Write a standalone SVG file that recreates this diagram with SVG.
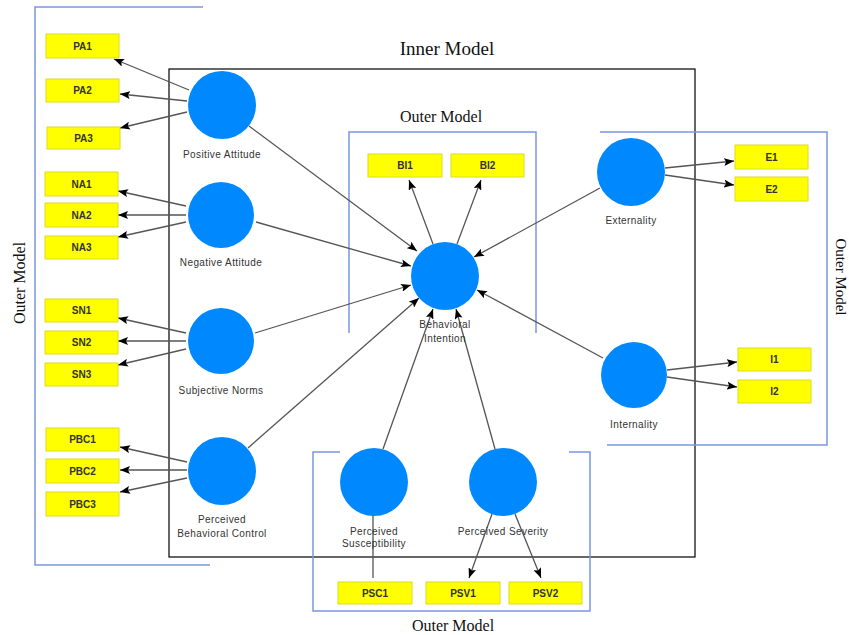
<svg xmlns="http://www.w3.org/2000/svg" width="849" height="635" viewBox="0 0 849 635">
  <style>
    .frame { fill: none; stroke: #000; stroke-width: 1.2; }
    .outer { fill: none; stroke: #7b96e0; stroke-width: 1.5; }
    .title { font-family: "Liberation Serif", "Times New Roman", serif; fill: #111; }
    .edge { fill: none; stroke: #555; stroke-width: 1.3; }
    .lv { fill: #0088ff; }
    .lvlabel { font-family: "Liberation Sans", Arial, sans-serif; font-size: 10px; letter-spacing: 0.4px; fill: #333; text-anchor: middle; }
    .ind { fill: #ffff00; stroke: #dcdc20; stroke-width: 1; }
    .indlabel { font-family: "Liberation Sans", Arial, sans-serif; font-size: 10px; font-weight: bold; fill: #333; text-anchor: middle; }
  </style>
  <defs>
    <marker id="arrow" viewBox="0 0 10 8" refX="10" refY="4" markerWidth="10" markerHeight="8" markerUnits="userSpaceOnUse" orient="auto">
      <path d="M0,0 L10,4 L0,8 L2,4 z" fill="#000"/>
    </marker>
  </defs>

  <rect width="849" height="635" fill="#fff"/>

  <!-- structural model frame -->
  <rect class="frame" x="169" y="69" width="526" height="488"/>
  <text class="title" x="447" y="55" font-size="19" text-anchor="middle">Inner Model</text>

  <!-- measurement model brackets -->
  <g id="outer-frames">
    <path class="outer" d="M203,7 L35,7 L35,565 L210,565"/>
    <path class="outer" d="M349,333 L349,132 L536,132 L536,333"/>
    <path class="outer" d="M600,132 L827,132 L827,445 L607,445"/>
    <path class="outer" d="M340,452 L313,452 L313,611 L590,611 L590,452 L569,452"/>
    <text class="title" x="441" y="122" font-size="16" text-anchor="middle">Outer Model</text>
    <text class="title" x="453" y="631" font-size="16" text-anchor="middle">Outer Model</text>
    <text class="title" font-size="16" text-anchor="middle" transform="translate(25,283) rotate(-90)">Outer Model</text>
    <text class="title" font-size="15" text-anchor="middle" transform="translate(836,277) rotate(90)">Outer Model</text>
  </g>

  <!-- connectors -->
  <g id="connectors" class="edge" marker-end="url(#arrow)">
    <path d="M189,90 L114,59"/>
    <path d="M187,101 L120,94"/>
    <path d="M187,112 L120,128"/>
    <path d="M186,206 L118,191"/>
    <path d="M186,215 L118,215"/>
    <path d="M186,222 L118,237"/>
    <path d="M186,333 L118,318"/>
    <path d="M186,341 L118,341"/>
    <path d="M186,349 L118,365"/>
    <path d="M187,462 L120,447"/>
    <path d="M187,470 L120,470"/>
    <path d="M187,478 L120,492"/>
    <path d="M249,126 L417,251"/>
    <path d="M256,222 L411,266"/>
    <path d="M255,333 L411,285"/>
    <path d="M248,448 L419,298"/>
    <path d="M600,188 L474,257"/>
    <path d="M603,358 L477,290"/>
    <path d="M383,449 L433,309"/>
    <path d="M495,449 L456,309"/>
    <path d="M433,244 L409,180"/>
    <path d="M457,244 L481,180"/>
    <path d="M665,168 L734,161"/>
    <path d="M665,175 L734,185"/>
    <path d="M667,370 L737,362"/>
    <path d="M667,377 L737,387"/>
    <path d="M373,515 L373,578" marker-end="none"/>
    <path d="M492,514 L469,578"/>
    <path d="M515,514 L541,578"/>
  </g>

  <!-- latent variables -->
  <g id="positive-attitude">
    <circle class="lv" cx="222" cy="105" r="34"/>
    <text class="lvlabel" x="222" y="158">Positive Attitude</text>
  </g>
  <g id="negative-attitude">
    <circle class="lv" cx="221" cy="215" r="33"/>
    <text class="lvlabel" x="221" y="266">Negative Attitude</text>
  </g>
  <g id="subjective-norms">
    <circle class="lv" cx="221" cy="341" r="33"/>
    <text class="lvlabel" x="221" y="394">Subjective Norms</text>
  </g>
  <g id="perceived-behavioral-control">
    <circle class="lv" cx="222" cy="471" r="34"/>
    <text class="lvlabel" x="222" y="523">Perceived</text>
    <text class="lvlabel" x="222" y="537">Behavioral Control</text>
  </g>
  <g id="behavioral-intention">
    <circle class="lv" cx="445" cy="276" r="34"/>
    <text class="lvlabel" x="445" y="328">Behavioral</text>
    <text class="lvlabel" x="445" y="342">Intention</text>
  </g>
  <g id="externality">
    <circle class="lv" cx="631" cy="172" r="34"/>
    <text class="lvlabel" x="631" y="224">Externality</text>
  </g>
  <g id="internality">
    <circle class="lv" cx="634" cy="375" r="33"/>
    <text class="lvlabel" x="634" y="428">Internality</text>
  </g>
  <g id="perceived-susceptibility">
    <circle class="lv" cx="374" cy="482" r="34"/>
    <text class="lvlabel" x="374" y="535">Perceived</text>
    <text class="lvlabel" x="374" y="547">Susceptibility</text>
  </g>
  <g id="perceived-severity">
    <circle class="lv" cx="503" cy="482" r="34"/>
    <text class="lvlabel" x="503" y="535">Perceived Severity</text>
  </g>

  <!-- indicators -->
  <g id="PA1"><rect class="ind" x="46" y="34" width="73" height="24"/><text class="indlabel" x="82.5" y="50">PA1</text></g>
  <g id="PA2"><rect class="ind" x="46" y="79" width="73" height="23"/><text class="indlabel" x="82.5" y="94">PA2</text></g>
  <g id="PA3"><rect class="ind" x="47" y="127" width="73" height="22"/><text class="indlabel" x="83.5" y="142">PA3</text></g>
  <g id="NA1"><rect class="ind" x="45" y="172" width="73" height="24"/><text class="indlabel" x="81.5" y="188">NA1</text></g>
  <g id="NA2"><rect class="ind" x="45" y="203" width="73" height="24"/><text class="indlabel" x="81.5" y="219">NA2</text></g>
  <g id="NA3"><rect class="ind" x="45" y="236" width="73" height="23"/><text class="indlabel" x="81.5" y="251">NA3</text></g>
  <g id="SN1"><rect class="ind" x="45" y="299" width="73" height="23"/><text class="indlabel" x="81.5" y="314">SN1</text></g>
  <g id="SN2"><rect class="ind" x="45" y="331" width="73" height="23"/><text class="indlabel" x="81.5" y="346">SN2</text></g>
  <g id="SN3"><rect class="ind" x="45" y="363" width="73" height="23"/><text class="indlabel" x="81.5" y="378">SN3</text></g>
  <g id="PBC1"><rect class="ind" x="46" y="428" width="73" height="23"/><text class="indlabel" x="82.5" y="443">PBC1</text></g>
  <g id="PBC2"><rect class="ind" x="46" y="459" width="73" height="24"/><text class="indlabel" x="82.5" y="475">PBC2</text></g>
  <g id="PBC3"><rect class="ind" x="46" y="492" width="73" height="24"/><text class="indlabel" x="82.5" y="508">PBC3</text></g>
  <g id="BI1"><rect class="ind" x="368" y="154" width="74" height="23"/><text class="indlabel" x="405" y="169">BI1</text></g>
  <g id="BI2"><rect class="ind" x="451" y="154" width="73" height="23"/><text class="indlabel" x="487.5" y="169">BI2</text></g>
  <g id="E1"><rect class="ind" x="735" y="145" width="73" height="24"/><text class="indlabel" x="771.5" y="161">E1</text></g>
  <g id="E2"><rect class="ind" x="735" y="177" width="73" height="24"/><text class="indlabel" x="771.5" y="193">E2</text></g>
  <g id="I1"><rect class="ind" x="738" y="348" width="73" height="23"/><text class="indlabel" x="774.5" y="363">I1</text></g>
  <g id="I2"><rect class="ind" x="738" y="380" width="73" height="23"/><text class="indlabel" x="774.5" y="395">I2</text></g>
  <g id="PSC1"><rect class="ind" x="338" y="582" width="74" height="22"/><text class="indlabel" x="375" y="597">PSC1</text></g>
  <g id="PSV1"><rect class="ind" x="426" y="582" width="74" height="22"/><text class="indlabel" x="463" y="597">PSV1</text></g>
  <g id="PSV2"><rect class="ind" x="509" y="582" width="73" height="22"/><text class="indlabel" x="545.5" y="597">PSV2</text></g>
</svg>
